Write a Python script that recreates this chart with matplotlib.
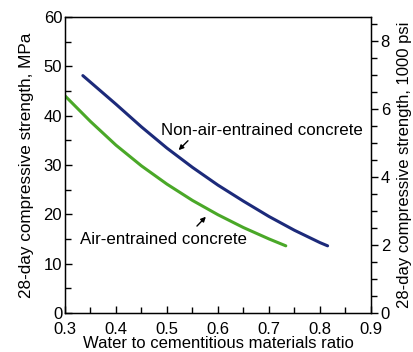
import matplotlib
matplotlib.use("Agg")
import matplotlib.pyplot as plt
from matplotlib.ticker import MultipleLocator

plt.rcParams['font.family'] = ['Liberation Sans', 'DejaVu Sans']

# Non-air-entrained concrete
wc_non = [0.335, 0.40, 0.45, 0.50, 0.55, 0.60, 0.65, 0.70, 0.75, 0.80, 0.815]
fc_non = [48.1, 42.3, 37.7, 33.4, 29.5, 25.9, 22.65, 19.55, 16.75, 14.25, 13.6]
# Air-entrained concrete
wc_air = [0.30, 0.35, 0.40, 0.45, 0.50, 0.55, 0.60, 0.65, 0.70, 0.733]
fc_air = [44.0, 38.8, 34.0, 29.8, 26.1, 22.8, 19.9, 17.3, 15.0, 13.6]

xticks = [0.3, 0.4, 0.5, 0.6, 0.7, 0.8, 0.9]
yticks = [0, 10, 20, 30, 40, 50, 60]
yticks_psi = [0, 2, 4, 6, 8]
MPA_PER_KSI = 6.895

fig = plt.figure(figsize=(4.14, 3.52), dpi=100)
ax = fig.add_axes([0.157, 0.111, 0.739, 0.841])

ax.plot(wc_non, fc_non, color='#1c2a7a', lw=2.2, solid_capstyle='round')
ax.plot(wc_air, fc_air, color='#4aa828', lw=2.2, solid_capstyle='round')

ax.set_xlim(0.3, 0.9)
ax.set_ylim(0, 60)
ax.set_xticks(xticks)
ax.set_xticklabels([f'{v:.1f}' for v in xticks])
ax.set_yticks(yticks)
ax.xaxis.set_minor_locator(MultipleLocator(0.05))
ax.yaxis.set_minor_locator(MultipleLocator(5))
ax.tick_params(axis='both', which='both', direction='in', labelsize=12,
               right=False, top=False)
ax.tick_params(which='major', length=5, width=1)
ax.tick_params(which='minor', length=4, width=1)
ax.tick_params(axis='x', pad=6.5)
ax.tick_params(axis='y', pad=2)
for s in ax.spines.values():
    s.set_linewidth(1.0)

ax.set_xlabel('Water to cementitious materials ratio', fontsize=12, labelpad=-1)
ax.set_ylabel('28-day compressive strength, MPa', fontsize=12.3, labelpad=7)

ax2 = ax.twinx()
ax2.set_ylim(0, 60 / MPA_PER_KSI)
ax2.set_yticks(yticks_psi)
ax2.yaxis.set_minor_locator(MultipleLocator(0.5))
ax2.tick_params(axis='y', which='both', direction='out', labelsize=12, pad=2)
ax2.tick_params(which='major', length=5, width=1)
ax2.tick_params(which='minor', length=4, width=1)
ax2.set_ylabel('28-day compressive strength, 1000 psi', fontsize=12, labelpad=5)

ax.text(0.686, 36.9, 'Non-air-entrained concrete', fontsize=12.2, ha='center', va='center')
ax.text(0.494, 14.8, 'Air-entrained concrete', fontsize=12.2, ha='center', va='center')
ax.annotate('', xy=(0.519, 32.6), xytext=(0.545, 35.3),
            arrowprops=dict(arrowstyle='-|>', color='black', lw=1, mutation_scale=7))
ax.annotate('', xy=(0.580, 19.9), xytext=(0.555, 17.2),
            arrowprops=dict(arrowstyle='-|>', color='black', lw=1, mutation_scale=7))

fig.savefig('out.png', dpi=100)
